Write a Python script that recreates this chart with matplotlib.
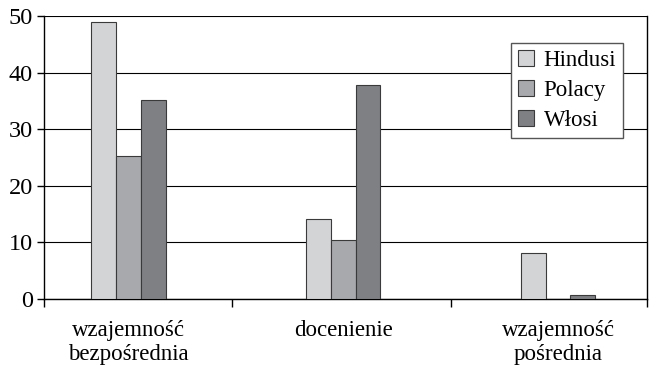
import numpy as np
import matplotlib
matplotlib.use("Agg")
import matplotlib.pyplot as plt

# data
categories = ["wzajemność\nbezpośrednia", "docenienie", "wzajemność\npośrednia"]
series = ["Hindusi", "Polacy", "Włosi"]
hindusi = [49, 14.2, 8.1]
polacy = [25.2, 10.5, 0]
wlosi = [35.1, 37.9, 0.7]
colors = ["#d3d4d6", "#a8a9ac", "#7f8084"]

plt.rcParams["font.family"] = ["Liberation Serif", "DejaVu Serif"]
plt.rcParams["font.size"] = 16.5

fig, ax = plt.subplots(figsize=(6.49, 3.65), dpi=100)
fig.subplots_adjust(left=0.068, right=0.997, top=0.956, bottom=0.181)

x = np.arange(len(categories))
width = 0.115
for i, (name, vals) in enumerate(zip(series, [hindusi, polacy, wlosi])):
    ax.bar(x + (i - 1) * width, vals, width, color=colors[i],
           edgecolor="#3a3a3a", linewidth=0.8, label=name, zorder=3)

# the original isn't quite evenly spaced
ax.set_xlim(-0.393, 2.414)
ax.set_ylim(0, 50)
ax.set_yticks(range(0, 51, 10))
ax.yaxis.grid(True, color="black", linewidth=0.8, zorder=0)
ax.tick_params(axis="y", labelsize=17.5, length=5, width=1, direction="out", pad=3)

# category labels at centres, tick marks at the boundaries
ax.set_xticks(x)
ax.set_xticklabels(categories, linespacing=1.2)
ax.tick_params(axis="x", length=0, pad=15)
ax.set_xticks([-0.393, 0.482, 1.5, 2.414], minor=True)
ax.tick_params(axis="x", which="minor", length=6, width=1, direction="out")

for side in ["left", "bottom", "right"]:
    ax.spines[side].set_color("black")
    ax.spines[side].set_linewidth(1)
ax.spines["top"].set_visible(False)

leg = ax.legend(loc="upper right", bbox_to_anchor=(0.960, 0.905), borderaxespad=0,
                fancybox=False, edgecolor="#555555", framealpha=1,
                handlelength=0.7, handleheight=0.7, handletextpad=0.4,
                labelspacing=0.4, borderpad=0.3)
leg.get_frame().set_linewidth(1)

fig.savefig("out.png", dpi=100)
